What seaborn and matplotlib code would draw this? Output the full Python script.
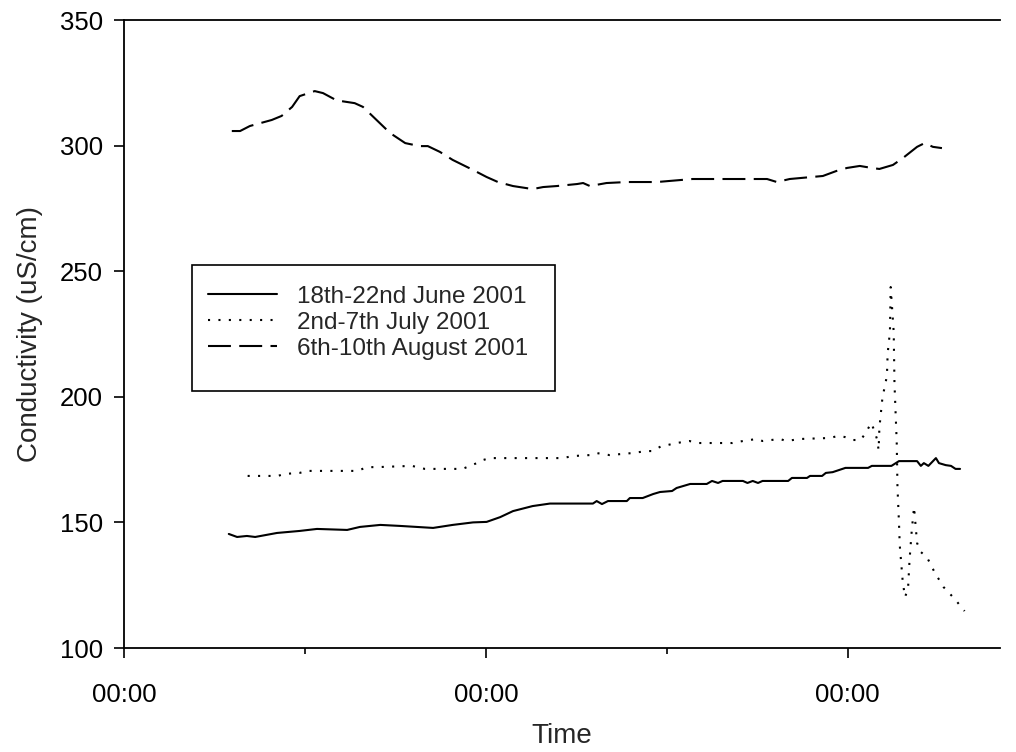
import numpy as np
import pandas as pd
import matplotlib
matplotlib.use("Agg")
import matplotlib.pyplot as plt
from matplotlib.patches import Rectangle
from matplotlib.ticker import MultipleLocator, FuncFormatter
import seaborn as sns

# Elapsed time since midnight of the first logging day (hours) and conductivity (uS/cm)
june_hours = [13.9, 15.0, 16.3, 17.4, 20.3, 23.3, 25.6, 29.6, 31.3, 34.0, 36.6, 41.0,
              43.6, 46.3, 48.1, 49.9, 51.6, 54.2, 56.5, 62.2, 62.7, 63.4, 64.2, 66.7,
              67.1, 68.8, 70.2, 71.1, 72.7, 73.3, 75.1, 77.3, 78.0, 78.8, 79.4, 82.1,
              82.7, 83.4, 84.1, 84.7, 88.1, 88.6, 90.6, 91.0, 92.6, 93.1, 94.0, 95.7,
              98.7, 99.2, 101.8, 102.8, 105.2, 105.7, 106.1, 106.7, 107.7, 108.1, 109.0,
              109.7, 110.3, 110.9]
june_cond = [145.4, 144.2, 144.6, 144.2, 145.8, 146.6, 147.4, 147.0, 148.2, 149.0, 148.6, 147.8,
             149.0, 150.0, 150.2, 152.1, 154.5, 156.5, 157.5, 157.5, 158.5, 157.3, 158.5, 158.5,
             159.7, 159.7, 161.3, 162.1, 162.5, 163.7, 165.3, 165.3, 166.5, 165.7, 166.5, 166.5,
             165.7, 166.5, 165.7, 166.5, 166.5, 167.7, 167.7, 168.5, 168.5, 169.7, 170.0, 171.7,
             171.7, 172.5, 172.5, 174.4, 174.4, 172.5, 173.6, 172.5, 175.6, 173.6, 172.8,
             172.5, 171.3, 171.3]

july_hours = [16.4, 20.4, 21.3, 23.3, 24.3, 31.0, 32.2, 33.5, 38.2, 39.9, 44.9, 45.9,
              46.8, 47.6, 48.5, 58.2, 59.5, 61.8, 62.7, 64.4, 67.4, 69.3, 70.1, 71.3,
              72.1, 73.3, 75.0, 76.1, 80.7, 82.1, 83.9, 84.7, 87.0, 87.9, 89.6, 93.6,
              94.7, 95.6, 96.7, 97.7, 98.4, 99.1, 99.5, 99.9, 100.1, 100.2, 100.6, 101.2,
              101.3, 101.6, 101.7, 102.1, 102.2, 102.5, 102.6, 102.8, 102.9, 103.3, 103.6,
              104.0, 104.2, 104.5, 104.8, 105.2, 105.7, 106.5, 107.5, 108.7, 110.2, 111.5]
july_cond = [168.5, 168.5, 169.3, 169.7, 170.5, 170.5, 172.0, 172.0, 172.5, 171.3, 171.3, 172.5,
             173.6, 174.8, 175.6, 175.6, 176.4, 176.8, 177.6, 176.8, 177.6, 178.4, 178.4, 180.4,
             180.8, 181.6, 182.4, 181.6, 181.6, 182.4, 183.2, 182.4, 183.2, 182.4, 183.2, 183.6,
             184.4, 184.0, 182.8, 182.8, 185.6, 189.6, 186.8, 183.0, 178.8, 187.6, 199.5, 208.3,
             217.4, 225.8, 243.7, 225.8, 205.5, 182.0, 164.1, 149.8, 141.0, 126.3, 120.3,
             123.5, 135.0, 147.0, 156.1, 141.8, 138.2, 136.2, 130.3, 124.3, 119.5, 114.7]

august_hours = [14.3, 15.4, 16.7, 19.6, 20.9, 22.3, 23.3, 25.3, 26.4, 28.2, 30.6, 31.7,
                33.5, 35.3, 37.3, 39.2, 40.3, 41.9, 43.6, 46.3, 48.1, 49.6, 51.6, 54.2,
                55.6, 57.4, 60.1, 60.9, 61.8, 64.0, 66.7, 70.7, 75.4, 82.6, 85.3, 86.6,
                88.3, 92.7, 94.5, 95.9, 97.6, 99.2, 100.2, 102.0, 103.3, 105.2, 106.2,
                107.3, 108.5]
august_cond = [305.8, 305.8, 307.8, 310.2, 311.8, 315.4, 319.7, 321.7, 320.9, 318.0, 316.9, 315.4,
               310.2, 305.0, 301.0, 299.8, 299.8, 297.5, 294.3, 290.3, 287.5, 285.5, 283.9, 282.7,
               283.5, 283.9, 284.7, 285.1, 283.9, 285.1, 285.5, 285.5, 286.7, 286.7, 286.7, 285.5,
               286.7, 287.9, 289.9, 291.1, 291.9, 291.1, 290.7, 292.3, 295.0, 299.5, 301.0,
               299.5, 299.0]

series_labels = ["18th-22nd June 2001", "2nd-7th July 2001", "6th-10th August 2001"]

df = pd.concat([
    pd.DataFrame({"Time": june_hours, "Conductivity": june_cond, "Period": series_labels[0]}),
    pd.DataFrame({"Time": july_hours, "Conductivity": july_cond, "Period": series_labels[1]}),
    pd.DataFrame({"Time": august_hours, "Conductivity": august_cond, "Period": series_labels[2]}),
], ignore_index=True)

sns.set_theme(style="ticks")
plt.rcParams["font.family"] = ["Liberation Sans", "DejaVu Sans"]
TICK_FS = 18.5
TITLE_FS = 20
LEGEND_FS = 17.5

fig = plt.figure(figsize=(10.16, 7.52), dpi=100)
ax = fig.add_axes([124 / 1016, 104 / 752, 876 / 1016, 628 / 752])

line_dashes = {series_labels[0]: "", series_labels[1]: (1, 4.0), series_labels[2]: (11, 4.0)}
sns.lineplot(data=df, x="Time", y="Conductivity", style="Period", dashes=line_dashes,
             color="black", linewidth=1.5, estimator=None, sort=False, ax=ax)

ax.set_xlim(0, 116.2)
ax.set_ylim(100, 350)
# labelled ticks every second midnight, unlabelled ticks at the midnights between
ax.xaxis.set_major_locator(MultipleLocator(48))
ax.xaxis.set_minor_locator(MultipleLocator(24))
ax.xaxis.set_major_formatter(FuncFormatter(lambda v, p: "%02d:%02d" % (int(v) % 24, int(round((v % 1) * 60)))))
ax.yaxis.set_major_locator(MultipleLocator(50))

for side in ["left", "bottom", "top"]:
    ax.spines[side].set_visible(True)
    ax.spines[side].set_color("black")
    ax.spines[side].set_linewidth(1.3)
ax.spines["right"].set_visible(False)

ax.tick_params(axis="both", which="major", direction="out", length=7, width=1.2,
               colors="black", labelsize=TICK_FS)
ax.tick_params(axis="x", which="minor", direction="out", length=4.5, width=1.2, colors="black")
ax.tick_params(axis="x", which="major", pad=18.5)
ax.tick_params(axis="y", which="major", pad=8)
ax.tick_params(top=False, right=False, which="both")

ax.set_xlabel("Time", fontsize=TITLE_FS, labelpad=11)
ax.set_ylabel("Conductivity (uS/cm)", fontsize=TITLE_FS, labelpad=12)

# legend entries without their own frame; the border is drawn as a separate box
handles, labels = ax.get_legend_handles_labels()
leg = ax.legend(handles, labels, loc="upper left", bbox_to_anchor=(0.0959, 0.577),
                fontsize=LEGEND_FS, frameon=False, borderpad=0, handlelength=2.85,
                handletextpad=0.8, labelspacing=0.17, borderaxespad=0)
ax.add_patch(Rectangle((0.0776, 0.4092), 0.4144, 0.2007, transform=ax.transAxes,
                       fill=False, edgecolor="black", linewidth=1.2, zorder=5))

fig.savefig("out.png", dpi=100, facecolor="white")
